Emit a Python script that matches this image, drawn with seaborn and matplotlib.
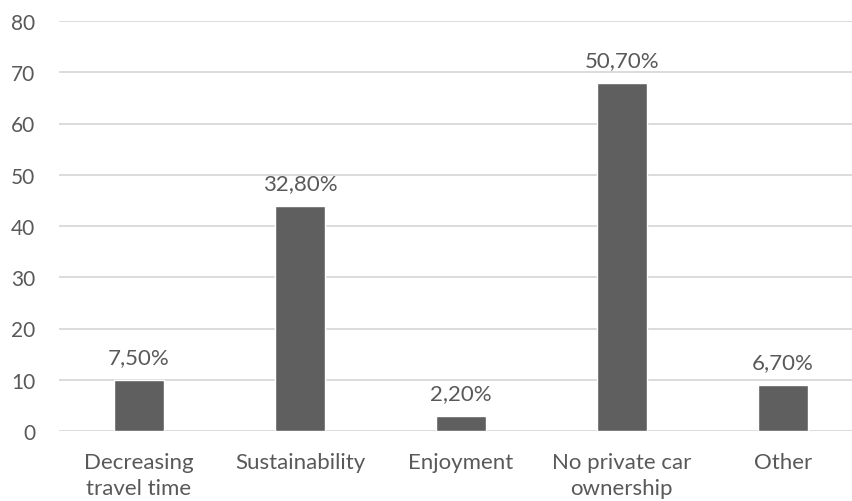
import matplotlib
matplotlib.use("Agg")
import matplotlib.pyplot as plt
import seaborn as sns
import pandas as pd

# Reasons given by respondents (number of mentions)
categories = ["Decreasing\ntravel time", "Sustainability", "Enjoyment",
              "No private car\nownership", "Other"]
counts = [10, 44, 3, 68, 9]
y_ticks = [0, 10, 20, 30, 40, 50, 60, 70, 80]

total = sum(counts)
share_labels = [f"{round(c / total * 100, 1):.2f}%".replace(".", ",") for c in counts]

df = pd.DataFrame({"reason": categories, "count": counts})

sns.set_theme(style="white")
plt.rcParams["font.family"] = ["Lato", "DejaVu Sans"]

text_color = "#595959"
bar_color = "#5f5f5f"
grid_color = "#d9d9d9"

fig = plt.figure(figsize=(8.52, 5.02), dpi=100)
ax = fig.add_axes([59 / 852, 1 - 432 / 502, 1 - 59 / 852, (432 - 22) / 502])

sns.barplot(data=df, x="reason", y="count", color=bar_color, width=0.31,
            saturation=1, ax=ax, zorder=3)

ax.set_ylim(0, 80)
ax.set_xlim(-0.497, 4.43)
ax.set_yticks(y_ticks)
ax.yaxis.grid(True, color=grid_color, linewidth=1.3, zorder=0)
ax.set_axisbelow(True)
for s in ax.spines.values():
    s.set_visible(False)
ax.set_xlabel("")
ax.set_ylabel("")
ax.tick_params(axis="both", length=0, colors=text_color)
ax.tick_params(axis="y", pad=17, labelsize=15)
ax.tick_params(axis="x", pad=15, labelsize=16)
for lbl in ax.get_xticklabels():
    lbl.set_linespacing(1.4)

for i, (c, lab) in enumerate(zip(counts, share_labels)):
    ax.annotate(lab, (i, c), xytext=(0, 9), textcoords="offset points",
                ha="center", va="bottom", fontsize=16, color=text_color)

fig.savefig("out.png", dpi=100)
